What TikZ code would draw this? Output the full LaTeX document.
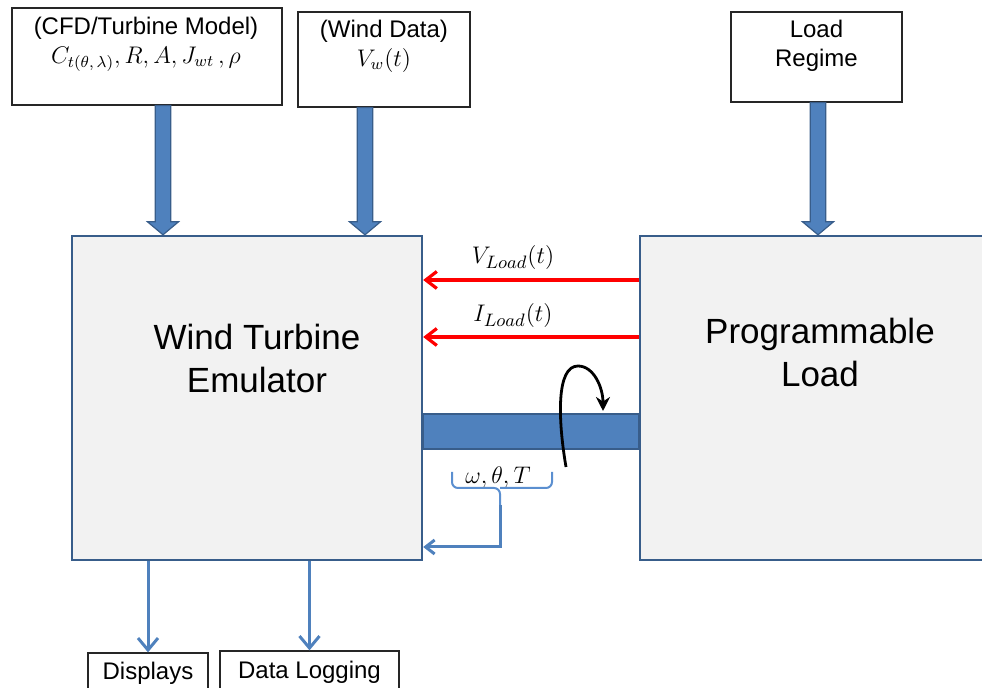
\documentclass[tikz,border=0pt]{standalone}
\usepackage[no-math]{fontspec}
\setmainfont{Liberation Sans}
\usepackage{tikz}
\usetikzlibrary{arrows.meta, positioning, calc}
\definecolor{emublue}{HTML}{4F81BD}
\definecolor{emuedge}{HTML}{385D8A}
\definecolor{emugray}{HTML}{F2F2F2}
\definecolor{emured}{HTML}{FF0000}
\definecolor{bracecol}{HTML}{5B8FD0}
\tikzset{
    unit/.style={rectangle, draw=emuedge, fill=emugray, line width=1.2pt},
    unittext/.style={align=center, font=\fontsize{17.5}{21.5}\selectfont},
    inbox/.style={rectangle, draw=black!85, line width=0.6pt, fill=white},
    intext/.style={align=center, font=\fontsize{12}{14.5}\selectfont},
    sig/.style={draw=emured, line width=1.6pt, -{Straight Barb[length=5.5pt, width=8.5pt]}},
    feed/.style={draw=emublue, line width=1.5pt, -{Straight Barb[length=6pt, width=10pt]}},
    fat/.style={fill=emublue, draw=emuedge, line width=0.6pt, line join=miter},
    brc/.style={draw=bracecol, line width=1pt, rounded corners=3pt},
    lbl/.style={font=\fontsize{13}{15}\selectfont}
}
% fat block arrow pointing down from #1 to #2
\newcommand{\fatdown}[2]{%
    \draw[fat] let \p1=(#1), \p2=(#2) in
        (\x1-3.9pt,\y1) -- (\x1-3.9pt,\y2+6.5pt) -- (\x1-7.75pt,\y2+6.5pt) -- (\x1,\y2)
        -- (\x1+7.75pt,\y2+6.5pt) -- (\x1+3.9pt,\y2+6.5pt) -- (\x1+3.9pt,\y1) -- cycle;}

\begin{document}
\begin{tikzpicture}[x=0.5pt, y=-0.5pt]
    \useasboundingbox (0,0) rectangle (982,688);

    % main units
    \node[unit, minimum width=175pt, minimum height=162pt] (wte) at (247,398) {};
    \node[unit, minimum width=180pt, minimum height=162pt] (pl) at (820,398) {};
    \node[unittext] (wteText) at (257,358) {Wind Turbine\\Emulator};
    \node[unittext] (plText) at (820,352) {Programmable\\Load};

    % inputs
    \node[inbox, minimum width=135pt, minimum height=48.5pt] (cfd) at (147,56.5) {};
    \node[intext] (cfdText) at (146,44) {(CFD/Turbine Model)\\$C_{t(\theta,\,\lambda)},R,A,J_{wt}\,,\rho$};
    \node[inbox, minimum width=86pt, minimum height=47.5pt] (wind) at (384,59.5) {};
    \node[intext] (windText) at (384,46) {(Wind Data)\\$V_w(t)$};
    \node[inbox, minimum width=85.5pt, minimum height=45pt] (regime) at (816.5,57) {};
    \node[intext] (regimeText) at (816.5,46) {Load\\Regime};

    % outputs
    \node[inbox, intext, minimum width=60pt, minimum height=20pt] (disp) at (148,673) {Displays};
    \node[inbox, intext, minimum width=89.5pt, minimum height=21pt] (logging) at (309.5,672) {Data Logging};

    % block arrows
    \coordinate (cfdOut) at ([xshift=8pt]cfd.south);
    \coordinate (windOut) at ([xshift=-9.5pt]wind.south);
    \coordinate (regimeOut) at ([xshift=0.75pt]regime.south);
    \fatdown{cfdOut}{cfdOut |- wte.north}
    \fatdown{windOut}{windOut |- wte.north}
    \fatdown{regimeOut}{regimeOut |- pl.north}

    % electrical signals
    \draw[sig] ([yshift=59pt]pl.west) -- ([yshift=59pt]wte.east);
    \draw[sig] ([yshift=30.5pt]pl.west) -- ([yshift=30.5pt]wte.east);
    \node[lbl] (vload) at (513,258) {$V_{Load}(t)$};
    \node[lbl] (iload) at (513,316) {$I_{Load}(t)$};

    % shaft
    \draw[fat] ([yshift=-8pt]wte.east) rectangle ([yshift=-25.5pt]pl.west);
    \draw[line width=1.4pt, -{Stealth[length=7pt, width=7pt]}]
        (566,467) .. controls (558,420) and (556,366) .. (578,366)
        .. controls (594,366) and (603,388) .. (603,411);

    % measured quantities
    \node[lbl] (state) at (498,478) {$\omega,\theta,T$};
    \coordinate (braceTip) at (500,505);
    \draw[brc] (452,472) -- (452,488) -- (500,488) -- (braceTip);
    \draw[brc] (552,472) -- (552,488) -- (500,488);
    \draw[feed, -{Straight Barb[length=4.5pt, width=7pt]}] (braceTip) |- ([yshift=-74.5pt]wte.east);

    % outputs
    \draw[feed] (disp.north |- wte.south) -- (disp.north);
    \draw[feed] (logging.north |- wte.south) -- (logging.north);
\end{tikzpicture}
\end{document}
